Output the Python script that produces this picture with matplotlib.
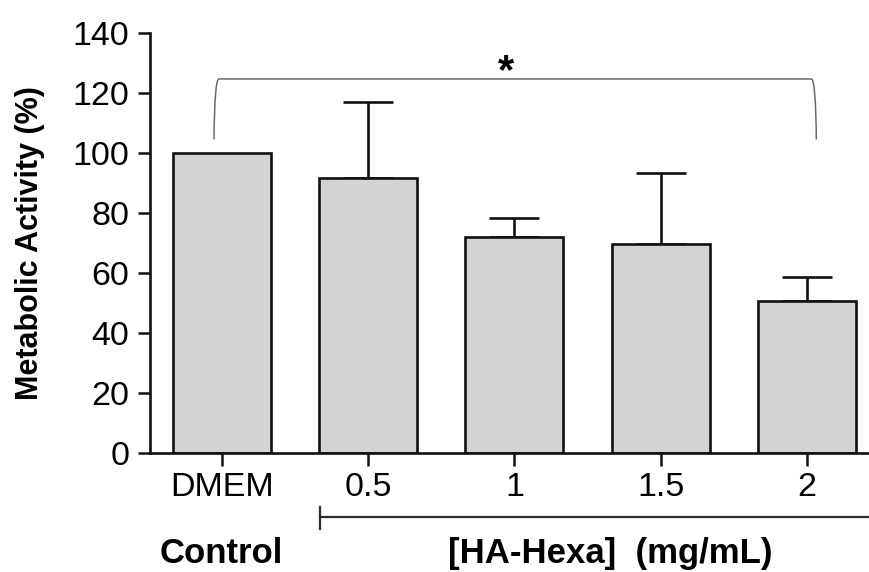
import matplotlib
matplotlib.use("Agg")
import matplotlib.pyplot as plt
from matplotlib.path import Path
from matplotlib.patches import PathPatch

plt.rcParams['font.family'] = ['Liberation Sans', 'DejaVu Sans']

# values
groups = ["DMEM", "0.5", "1", "1.5", "2"]
means = [100, 91.7, 72.1, 69.8, 50.8]
errors = [0, 25.4, 6.3, 23.6, 7.9]

fig = plt.figure(figsize=(8.69, 5.72), dpi=100)
ax = fig.add_axes([0.1726, 0.208, 0.8274, 0.7342])

x = list(range(len(groups)))
ax.bar(x, means, width=0.67, color="#d3d3d3", edgecolor="#111111", linewidth=1.9, zorder=2)
ax.errorbar(x[1:], means[1:], yerr=[[0] * 4, errors[1:]], fmt="none",
            ecolor="#111111", elinewidth=1.9, capsize=18, capthick=1.9, zorder=1)

ax.set_xlim(-0.492, 4.424)
ax.set_ylim(0, 140)
ax.set_yticks(range(0, 141, 20))
ax.set_xticks(x)
ax.set_xticklabels(groups)
ax.tick_params(axis="both", labelsize=24.5, width=1.8, length=9, pad=6, color="#111111")
ax.tick_params(axis="x", pad=5)
ax.set_ylabel("Metabolic Activity (%)", fontsize=22, fontweight="bold")
ax.yaxis.set_label_coords(-0.146, 0.5)

for s in ["top", "right"]:
    ax.spines[s].set_visible(False)
for s in ["left", "bottom"]:
    ax.spines[s].set_linewidth(1.9)
    ax.spines[s].set_color("#111111")

# significance bracket with rounded corners
xl, xr, yt, yb = -0.0546, 4.064, 124.7, 104.5
verts = [(xl, yb), (xl + 0.003, 117.7), (xl + 0.014, yt), (xl + 0.034, yt),
         (xr - 0.034, yt),
         (xr - 0.014, yt), (xr - 0.003, 117.7), (xr, yb)]
codes = [Path.MOVETO, Path.CURVE4, Path.CURVE4, Path.CURVE4,
         Path.LINETO,
         Path.CURVE4, Path.CURVE4, Path.CURVE4]
ax.add_patch(PathPatch(Path(verts, codes), fill=False, edgecolor="#6a6a6a", linewidth=1.1))
ax.text(1.94, 123.3, "*", fontsize=30, fontweight="bold", ha="center", va="baseline")

# group line under the tick labels
ax.plot([0.67, 4.424], [-21.3, -21.3], color="#2a2a2a", linewidth=1.6, clip_on=False)
ax.plot([0.67, 0.67], [-18, -25.3], color="#2a2a2a", linewidth=1.6, clip_on=False)

fig.text(0.2543, 0.033, "Control", fontsize=25, fontweight="bold", ha="center", va="center")
fig.text(0.702, 0.033, "[HA-Hexa]  (mg/mL)", fontsize=25, fontweight="bold", ha="center", va="center")

fig.savefig("out.png", dpi=100)
